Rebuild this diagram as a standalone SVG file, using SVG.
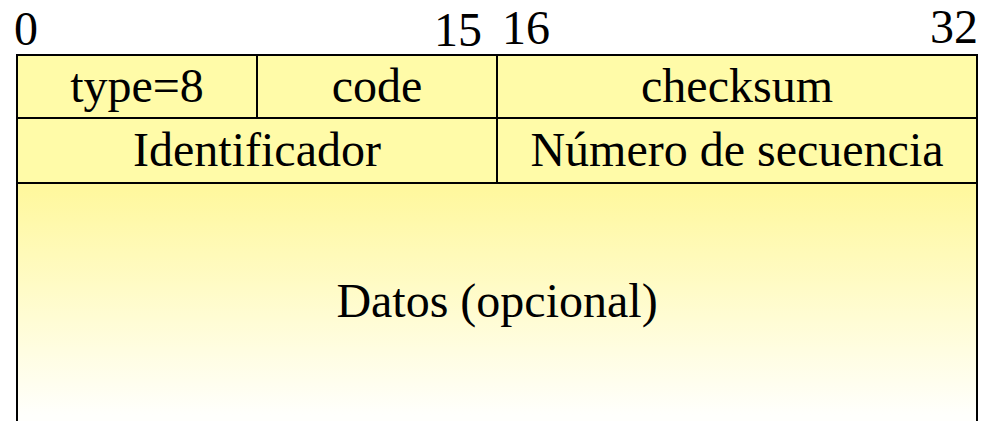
<svg xmlns="http://www.w3.org/2000/svg" width="981" height="421" viewBox="0 0 981 421">
  <style>
    text { font-family: "Liberation Serif", "Times New Roman", serif; font-size: 48px; fill: #000; }
    .c { text-anchor: middle; }
    .cell { fill: #FFFBA8; stroke: #000; stroke-width: 2; }
  </style>
  <defs>
    <linearGradient id="fade" gradientUnits="userSpaceOnUse" x1="0" y1="190" x2="0" y2="415">
      <stop offset="0" stop-color="#FFF89E"/>
      <stop offset="1" stop-color="#FFFFFC"/>
    </linearGradient>
  </defs>
  <rect width="981" height="421" fill="#FFFFFF"/>
  <g id="bit-labels">
    <text x="14" y="45">0</text>
    <text x="482" y="46" text-anchor="end">15</text>
    <text x="502" y="44">16</text>
    <text x="978" y="43" text-anchor="end">32</text>
  </g>
  <g id="type">
    <rect class="cell" x="17" y="55" width="240" height="63"/>
    <text class="c" x="137" y="102">type=8</text>
  </g>
  <g id="code">
    <rect class="cell" x="257" y="55" width="240" height="63"/>
    <text class="c" x="377" y="102">code</text>
  </g>
  <g id="checksum">
    <rect class="cell" x="497" y="55" width="480" height="63"/>
    <text class="c" x="737" y="102">checksum</text>
  </g>
  <g id="identificador">
    <rect class="cell" x="17" y="118" width="480" height="65"/>
    <text class="c" x="257" y="166">Identificador</text>
  </g>
  <g id="secuencia">
    <rect class="cell" x="497" y="118" width="480" height="65"/>
    <text class="c" x="737" y="166">Número de secuencia</text>
  </g>
  <g id="datos">
    <rect x="17" y="183" width="960" height="260" fill="url(#fade)" stroke="#000" stroke-width="2"/>
    <text class="c" x="497" y="317">Datos (opcional)</text>
  </g>
  <g id="connectors"/>
</svg>
